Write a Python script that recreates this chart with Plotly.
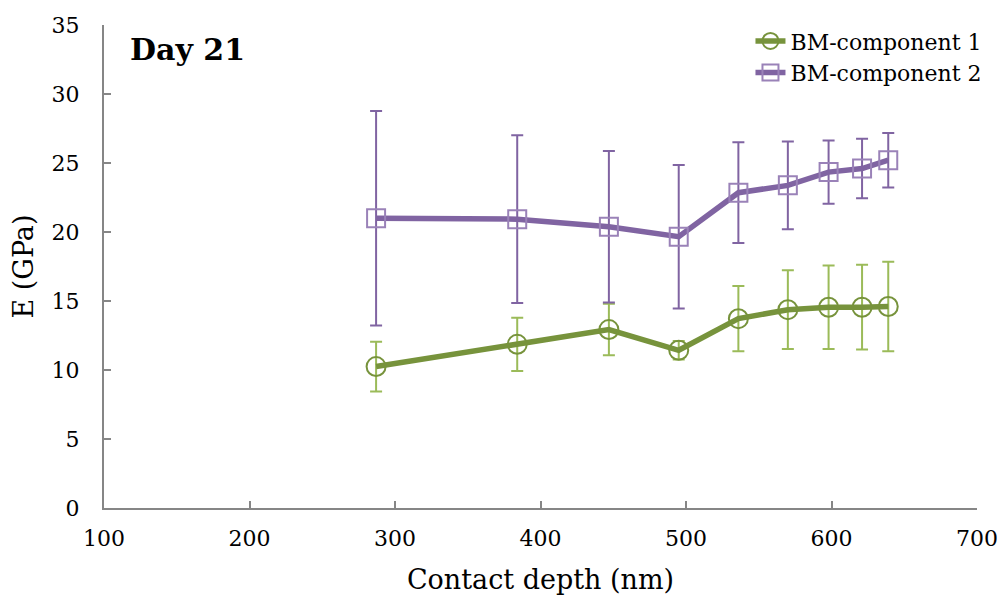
import plotly.graph_objects as go

# contact depth (nm)
depth = [287, 384, 447, 495, 536, 570, 598, 621, 639]

# BM-component 1
comp1 = [10.25, 11.86, 12.93, 11.43, 13.72, 14.37, 14.55, 14.55, 14.6]
comp1_err = [1.8, 1.93, 1.87, 0.67, 2.37, 2.85, 3.03, 3.07, 3.24]

# BM-component 2
comp2 = [21.0, 20.93, 20.38, 19.66, 22.85, 23.38, 24.34, 24.6, 25.2]
comp2_err = [7.77, 6.08, 5.49, 5.2, 3.65, 3.18, 2.29, 2.16, 1.97]

FONT = "DejaVu Serif, serif"
AXIS_GREY = "#868686"

fig = go.Figure()

fig.add_scatter(
    x=depth, y=comp1, name="BM-component 1", mode="lines+markers",
    line=dict(color="#77933C", width=5.5),
    marker=dict(symbol="circle-open", size=19, color="#77933C",
                line=dict(width=2, color="#77933C")),
    error_y=dict(type="data", array=comp1_err, visible=True,
                 color="#9BBB59", thickness=2, width=6),
)
fig.add_scatter(
    x=depth, y=comp2, name="BM-component 2", mode="lines+markers",
    line=dict(color="#8064A2", width=5.5),
    marker=dict(symbol="square-open", size=18, color="#9A82B8",
                line=dict(width=2, color="#9A82B8")),
    error_y=dict(type="data", array=comp2_err, visible=True,
                 color="#8064A2", thickness=2, width=6),
)

fig.add_annotation(
    text="<b>Day 21</b>", x=0.027, y=0.99, xref="paper", yref="paper",
    xanchor="left", yanchor="top", showarrow=False,
    font=dict(family=FONT, size=30, color="black"),
)

# the page adds an 8px margin round the figure, so it is a bit smaller
fig.update_layout(
    width=991, height=589,
    margin=dict(l=96, r=20, t=14, b=89),
    paper_bgcolor="white", plot_bgcolor="white",
    font=dict(family=FONT, size=22, color="black"),
    showlegend=True,
    legend=dict(x=1.012, y=1.01, xanchor="right", yanchor="top",
                bgcolor="rgba(0,0,0,0)", font=dict(size=22),
                tracegroupgap=0),
)
fig.update_xaxes(
    range=[100, 700], dtick=100, tick0=100, automargin=False,
    showgrid=False, zeroline=False,
    showline=True, linecolor=AXIS_GREY, linewidth=2,
    ticks="inside", ticklen=7, tickcolor=AXIS_GREY, tickwidth=2,
    tickfont=dict(size=22), ticklabelstandoff=10,
    title=dict(text="Contact depth (nm)", font=dict(size=27), standoff=20),
)
fig.update_yaxes(
    range=[0, 35], dtick=5, automargin=False,
    showgrid=False, zeroline=False,
    showline=True, linecolor=AXIS_GREY, linewidth=2,
    ticks="inside", ticklen=7, tickcolor=AXIS_GREY, tickwidth=2,
    tickfont=dict(size=22), ticklabelstandoff=18,
    title=dict(text="E (GPa)", font=dict(size=27), standoff=12),
)

fig.write_html("out.html")
